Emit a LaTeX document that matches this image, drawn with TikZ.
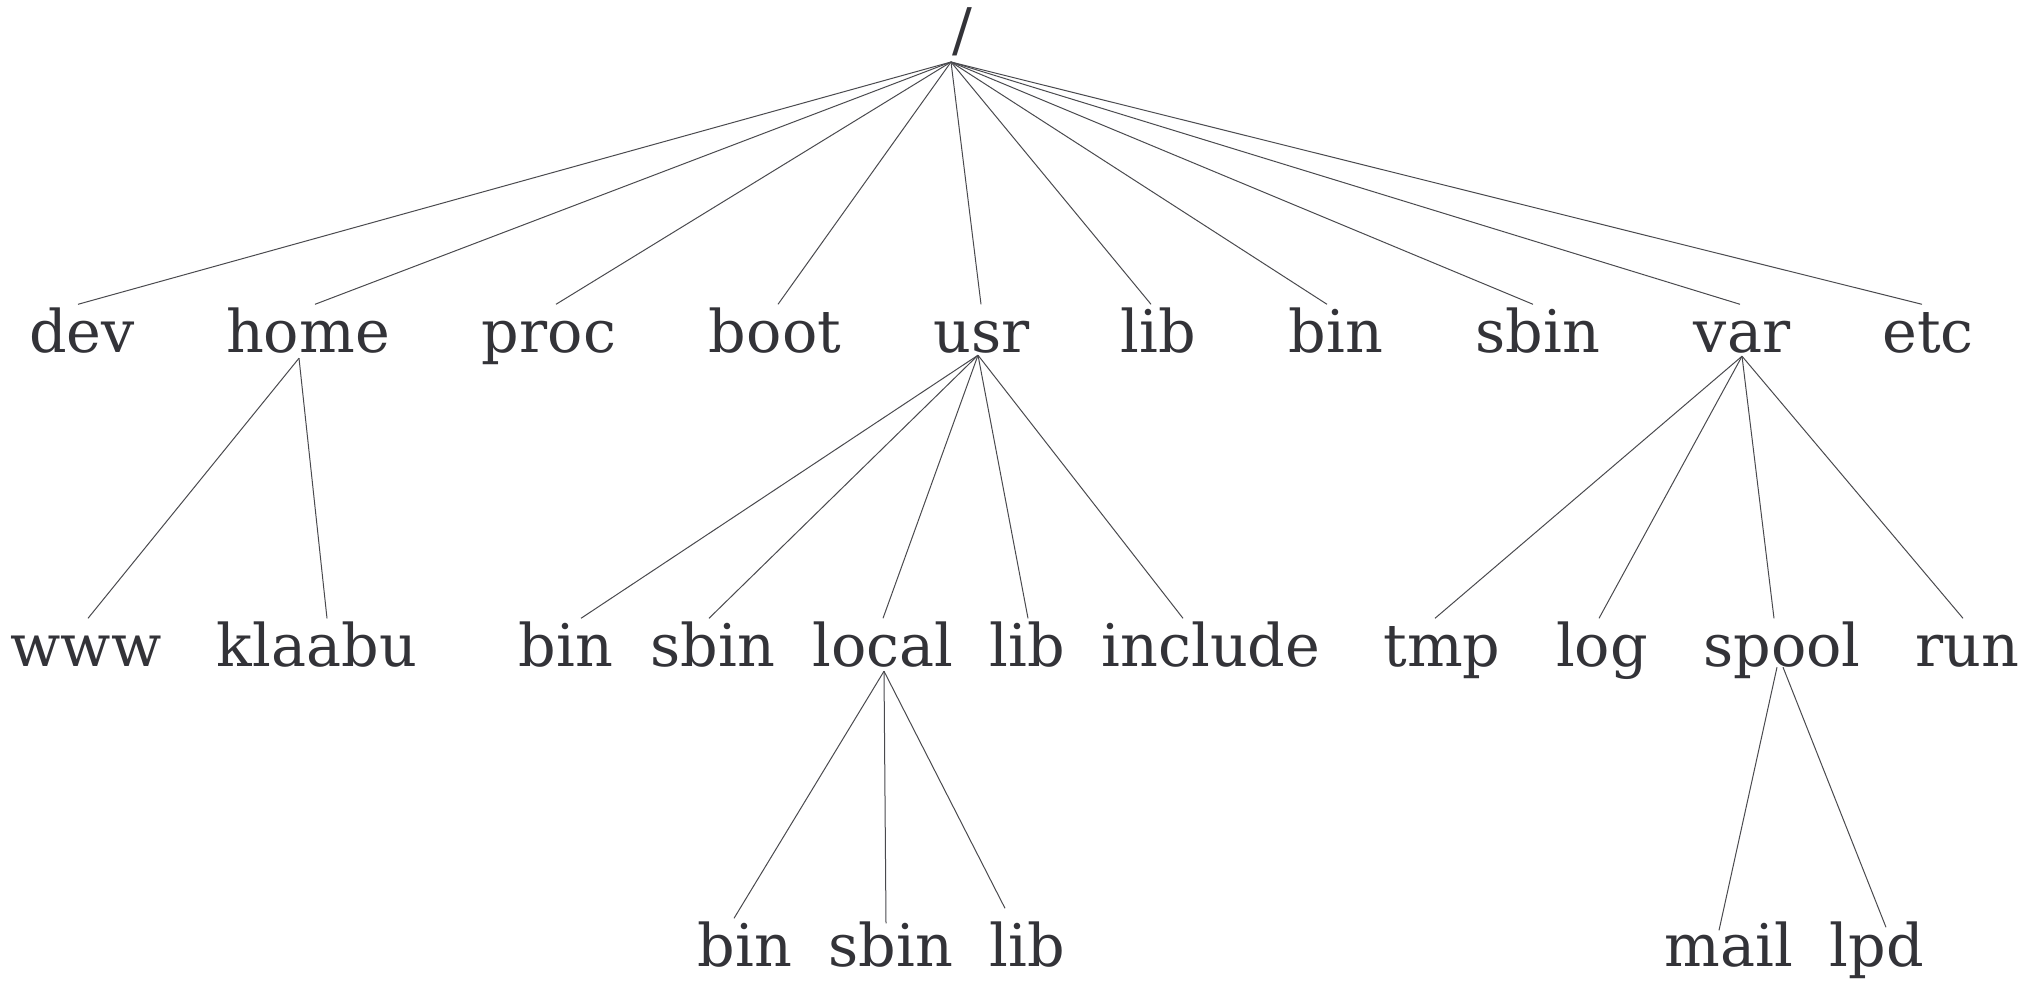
\documentclass[tikz,border=0pt]{standalone}
\usepackage{fontspec}
\setmainfont{DejaVu Serif}
\definecolor{txt}{HTML}{333338}
\definecolor{edgec}{HTML}{4A4A4E}
\tikzset{
  tnode/.style={font=\fontsize{58.8}{70}\selectfont, text=txt, anchor=base,
    inner sep=3pt, text height=44.5pt, text depth=0pt},
  rootnode/.style={font=\fontsize{58.8}{70}\selectfont, text=txt, anchor=south, inner sep=0pt},
  edge/.style={draw=edgec, line width=1pt}
}
\begin{document}
\begin{tikzpicture}[x=1pt,y=-1pt]
\useasboundingbox (0,0) rectangle (2032,982);
% root
\node[rootnode] (root) at (962,56) {/};
% level 1
\node[tnode] (dev)  at (82,352)   {dev};
\node[tnode] (home) at (308,352)  {home};
\node[tnode] (proc) at (549,352)  {proc};
\node[tnode] (boot) at (775,352)  {boot};
\node[tnode] (usr)  at (982,352)  {usr};
\node[tnode] (lib1) at (1158,352) {lib};
\node[tnode] (bin1) at (1336,352) {bin};
\node[tnode] (sbin1) at (1538,352) {sbin};
\node[tnode] (var)  at (1742,352) {var};
\node[tnode] (etc)  at (1928,352) {etc};
% level 2
\node[tnode] (www)    at (86,666)   {www};
\node[tnode] (klaabu) at (317,666)  {klaabu};
\node[tnode] (bin2)   at (566,666)  {bin};
\node[tnode] (sbin2)  at (713,666)  {sbin};
\node[tnode] (local)  at (883,666)  {local};
\node[tnode] (lib2)   at (1027,666) {lib};
\node[tnode] (include) at (1211,666) {include};
\node[tnode] (tmp)    at (1442,666) {tmp};
\node[tnode] (log)    at (1602,666) {log};
\node[tnode] (spool)  at (1782,666) {spool};
\node[tnode] (run)    at (1967,666) {run};
% level 3
\node[tnode] (bin3)  at (745,966)  {bin};
\node[tnode] (sbin3) at (891,966)  {sbin};
\node[tnode] (lib3)  at (1027,966) {lib};
\node[tnode] (mail)  at (1729,966) {mail};
\node[tnode] (lpd)   at (1877,966) {lpd};
% edges from root
\coordinate (rh) at ([xshift=-11pt,yshift=-6pt]root.south);
\draw[edge] (rh) -- ([xshift=-4pt]dev.north);
\draw[edge] (rh) -- ([xshift=7pt]home.north);
\draw[edge] (rh) -- ([xshift=7pt]proc.north);
\draw[edge] (rh) -- ([xshift=3pt]boot.north);
\draw[edge] (rh) -- ([xshift=-1pt]usr.north);
\draw[edge] (rh) -- ([xshift=-7pt]lib1.north);
\draw[edge] (rh) -- ([xshift=-9pt]bin1.north);
\draw[edge] (rh) -- ([xshift=-5pt]sbin1.north);
\draw[edge] (rh) -- ([xshift=-2pt]var.north);
\draw[edge] (rh) -- ([xshift=-6pt]etc.north);
% home
\draw[edge] ([xshift=-9pt,yshift=-3pt]home.south) -- ([xshift=2pt]www.north);
\draw[edge] ([xshift=-9pt,yshift=-3pt]home.south) -- ([xshift=10pt]klaabu.north);
% usr
\draw[edge] ([xshift=-4pt]usr.south) -- ([xshift=15pt]bin2.north);
\draw[edge] ([xshift=-4pt]usr.south) -- ([xshift=-4pt]sbin2.north);
\draw[edge] ([xshift=-4pt]usr.south) -- (local.north);
\draw[edge] ([xshift=-4pt]usr.south) -- ([xshift=1pt]lib2.north);
\draw[edge] ([xshift=-4pt]usr.south) -- ([xshift=-28pt]include.north);
% var
\draw[edge] ([yshift=-1pt]var.south) -- ([xshift=-7pt]tmp.north);
\draw[edge] ([yshift=-1pt]var.south) -- ([xshift=-3pt]log.north);
\draw[edge] ([yshift=-1pt]var.south) -- ([xshift=-8pt]spool.north);
\draw[edge] ([yshift=-1pt]var.south) -- ([xshift=-4pt]run.north);
% local
\draw[edge] ([xshift=1pt,yshift=-2pt]local.south) -- ([xshift=-11pt]bin3.north);
\draw[edge] ([xshift=1pt,yshift=-2pt]local.south) -- ([xshift=-5pt,yshift=-5pt]sbin3.north);
\draw[edge] ([xshift=1pt,yshift=-2pt]local.south) -- ([xshift=-22pt,yshift=10pt]lib3.north);
% spool
\draw[edge] ([xshift=-5pt,yshift=2pt]spool.south) -- ([xshift=-10pt,yshift=-12pt]mail.north);
\draw[edge] ([xshift=1pt,yshift=2pt]spool.south) -- ([xshift=9pt,yshift=-9pt]lpd.north);
\end{tikzpicture}
\end{document}
